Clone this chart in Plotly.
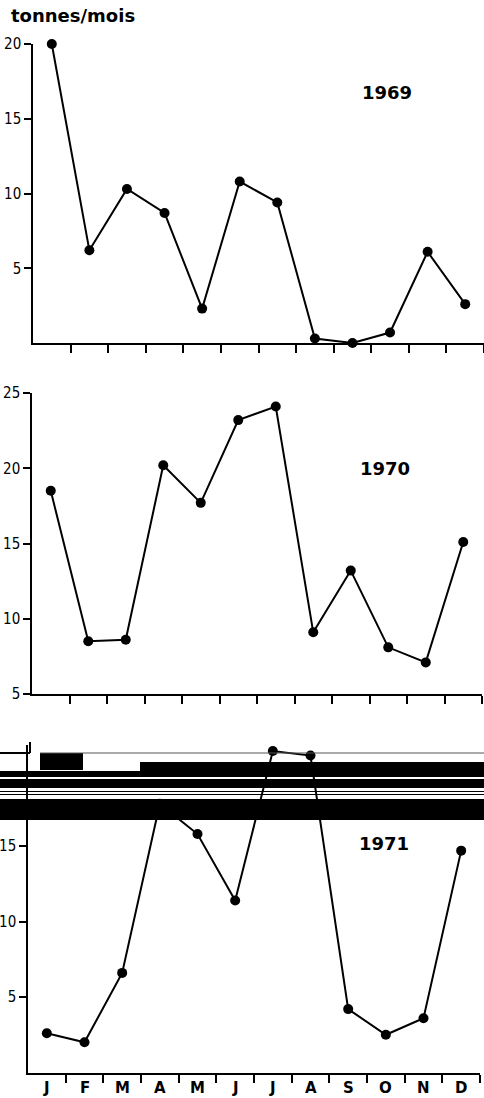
import plotly.graph_objects as go

W, H = 484, 1098

months = ["J", "F", "M", "A", "M", "J", "J", "A", "S", "O", "N", "D"]
v1969 = [20.0, 6.2, 10.3, 8.7, 2.3, 10.8, 9.4, 0.3, 0.0, 0.7, 6.1, 2.6]
v1970 = [18.5, 8.5, 8.6, 20.2, 17.7, 23.2, 24.1, 9.1, 13.2, 8.1, 7.1, 15.1]
v1971 = [2.6, 2.0, 6.6, 17.8, 15.8, 11.4, 21.3, 21.0, 4.2, 2.5, 3.6, 14.7]
years = ["1969", "1970", "1971"]
yticks1 = [5, 10, 15, 20]
yticks2 = [5, 10, 15, 20, 25]
yticks3 = [5, 10, 15]

xc = [i + 0.5 for i in range(12)]
bounds = list(range(1, 13))


def py(p):
    return 1 - p / H


def pxf(p):
    return p / W


fig = go.Figure()
for k, vals in enumerate([v1969, v1970, v1971], start=1):
    sfx = "" if k == 1 else str(k)
    fig.add_trace(go.Scatter(
        x=xc, y=vals, mode="lines+markers",
        line=dict(color="black", width=2),
        marker=dict(color="black", size=10),
        xaxis="x" + sfx, yaxis="y" + sfx, cliponaxis=False, showlegend=False,
        hoverinfo="skip",
    ))

tickfont = dict(family="Liberation Sans Narrow, DejaVu Sans Condensed, Arial Narrow, sans-serif",
                size=15, color="black")
common_x = dict(range=[0, 12], tickvals=bounds, ticktext=[""] * 12, ticks="outside",
                ticklen=8, tickwidth=1.5, tickcolor="black", showline=True,
                linecolor="black", linewidth=2, showgrid=False, zeroline=False,
                fixedrange=True)
common_y = dict(ticks="outside", ticklen=7, tickwidth=1.5, tickcolor="black",
                showline=True, linecolor="black", linewidth=1.5, showgrid=False,
                zeroline=False, tickfont=tickfont, automargin=False, fixedrange=True)

layout = dict(
    width=W, height=H, margin=dict(l=0, r=0, t=0, b=0),
    paper_bgcolor="white", plot_bgcolor="white", showlegend=False,
    xaxis=dict(domain=[pxf(33), 1.0], anchor="y", **common_x),
    yaxis=dict(domain=[py(343), py(44)], range=[0, 20], tickvals=yticks1,
               anchor="x", **common_y),
    xaxis2=dict(domain=[pxf(32), pxf(482)], anchor="y2", **common_x),
    yaxis2=dict(domain=[py(694), py(393)], range=[5, 25], tickvals=yticks2,
                anchor="x2", **common_y),
    xaxis3=dict(domain=[pxf(28), pxf(480)], anchor="y3", **common_x),
    yaxis3=dict(domain=[py(1072.5), py(745)], range=[0, 21.7], tickvals=yticks3,
                anchor="x3", **common_y),
)
fig.update_layout(**layout)

annots = [
    dict(text="tonnes/mois", xref="paper", yref="paper", x=pxf(9), y=py(16),
         xanchor="left", yanchor="middle", showarrow=False,
         font=dict(family="DejaVu Sans", size=18, color="black", weight="bold")),
]
year_pos = [(387, 93), (385, 468), (384, 843)]
for yr, (ax, ay) in zip(years, year_pos):
    annots.append(dict(text=yr, xref="paper", yref="paper", x=pxf(ax), y=py(ay),
                       xanchor="center", yanchor="middle", showarrow=False,
                       font=dict(family="DejaVu Sans", size=18, color="black",
                                 weight="bold")))
for m, x in zip(months, xc):
    annots.append(dict(text=m, xref="x3", yref="paper", x=x, y=py(1088),
                       xanchor="center", yanchor="middle", showarrow=False,
                       font=dict(family="DejaVu Sans", size=15, color="black",
                                 weight="bold")))
fig.update_layout(annotations=annots)

# scan artefact bands across the third panel
bands = [
    (140, 762, 484, 777), (0, 771, 140, 777), (0, 779, 484, 788),
    (0, 791, 484, 792), (0, 794, 484, 795), (0, 799, 484, 820),
    (40, 753, 83, 770), (0, 752, 30, 754), (29, 742, 31, 753),
]
shapes = []
for x0, y0, x1, y1 in bands:
    shapes.append(dict(type="rect", xref="paper", yref="paper",
                       x0=pxf(x0), x1=pxf(x1), y0=py(y1), y1=py(y0),
                       fillcolor="black", line=dict(width=0), layer="above"))
shapes.append(dict(type="line", xref="paper", yref="paper", x0=pxf(40), x1=1.0,
                   y0=py(753), y1=py(753), line=dict(color="#555", width=1),
                   layer="above"))
fig.update_layout(shapes=shapes)

fig.write_html("out.html")
